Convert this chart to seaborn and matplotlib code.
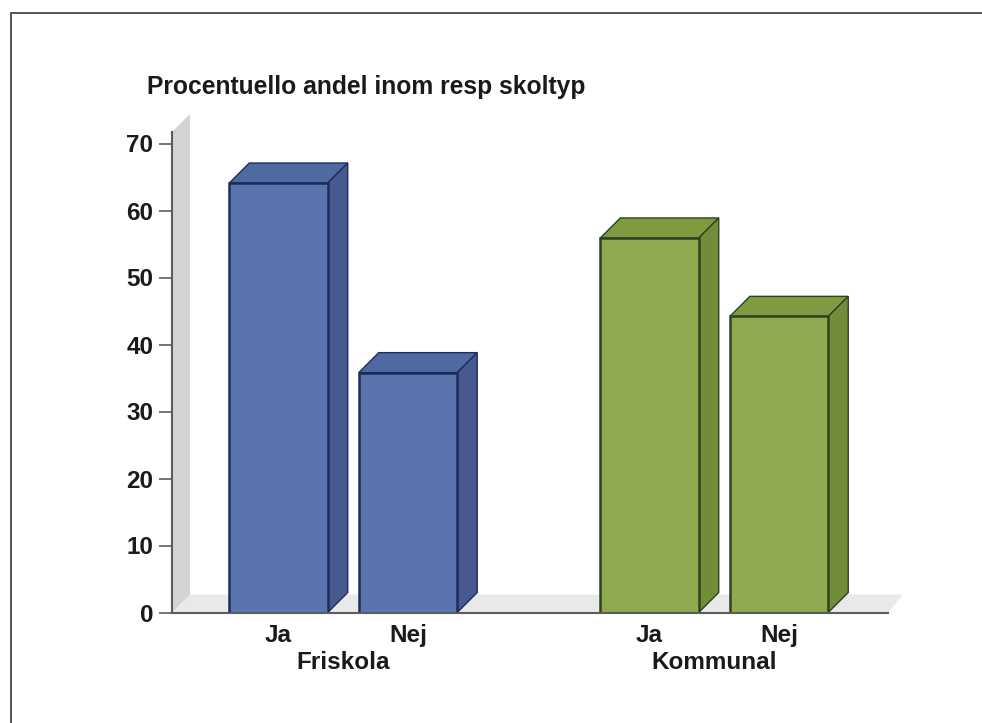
import matplotlib
matplotlib.use("Agg")
import matplotlib.pyplot as plt
from matplotlib.patches import Polygon, Rectangle
from matplotlib.lines import Line2D
import pandas as pd
import seaborn as sb

# values
groups = ["Friskola", "Kommunal"]
answers = ["Ja", "Nej"]
friskola = [64.1, 35.8]
kommunal = [55.9, 44.2]
title = "Procentuello andel inom resp skoltyp"
yticks = [0, 10, 20, 30, 40, 50, 60, 70]

W, H = 982, 723
PX_X = 129.5     # pixels for one bar step
PX_Y = 6.7       # pixels per percent
DEPTH = 20       # 3d depth in pixels
group_step = 2.865
TXT = "#1a1a1a"

sb.set_style("white")
plt.rcParams["font.family"] = ["Liberation Sans", "DejaVu Sans"]

df = pd.DataFrame({
    "pos": [0, 1, group_step, group_step + 1],
    "value": friskola + kommunal,
    "group": [groups[0]] * 2 + [groups[1]] * 2,
    "answer": answers * 2,
})

fig = plt.figure(figsize=(W / 100, H / 100), dpi=100)
left, right, bottom, top = 172, 888, 612.5, 132
ax = fig.add_axes([left / W, 1 - bottom / H, (right - left) / W, (bottom - top) / H])

sb.barplot(data=df, x="pos", y="value", hue="group", native_scale=True, width=0.76,
           palette=["#5a74ad", "#8ea94e"], saturation=1, legend=False,
           edgecolor="none", ax=ax, zorder=3)

ax.set_xlim((left - 278.5) / PX_X, (right - 278.5) / PX_X)
ax.set_ylim(0, (bottom - top) / PX_Y)
dx = DEPTH / PX_X
dy = DEPTH / PX_Y

bars = [p for p in ax.patches if isinstance(p, Rectangle) and p.get_width() > 0]
bars = sorted(bars, key=lambda b: b.get_x())

# back wall and floor
x0, x1 = ax.get_xlim()
y1 = ax.get_ylim()[1]
wall_dx = 18 / PX_X
wall_dy = 18 / PX_Y
ax.add_patch(Polygon([(x0, 0), (x0 + wall_dx, wall_dy), (x0 + wall_dx, y1 + wall_dy), (x0, y1)],
                     fc="#d3d3d3", ec="none", clip_on=False, zorder=1))
ax.add_patch(Polygon([(x0, 0), (x0 + wall_dx, wall_dy), (x1 + 15 / PX_X, wall_dy), (x1, 0)],
                     fc="#e9e9e9", ec="none", clip_on=False, zorder=0.5))

# fake 3d faces on each bar
styles = {
    0: ("#4f69a1", "#47598f", "#1d2c5c"),
    1: ("#7f9b41", "#728c3a", "#2f4222"),
}
for bar, g in zip(bars, [0, 0, 1, 1]):
    fc_top, fc_side, edge = styles[g]
    a, b = bar.get_x(), bar.get_x() + bar.get_width()
    h = bar.get_height()
    ax.add_patch(Polygon([(a, h), (a + dx, h + dy), (b + dx, h + dy), (b, h)],
                         fc=fc_top, ec=edge, lw=1.0, zorder=4, clip_on=False))
    ax.add_patch(Polygon([(b, 0), (b + dx, dy), (b + dx, h + dy), (b, h)],
                         fc=fc_side, ec=edge, lw=1.0, zorder=4, clip_on=False))
    bar.set_edgecolor(edge)
    bar.set_linewidth(1.8)
    bar.set_zorder(5)

for s in ["top", "right"]:
    ax.spines[s].set_visible(False)
for s in ["left", "bottom"]:
    ax.spines[s].set_color("#5c5c5c")
    ax.spines[s].set_linewidth(1.5)
    ax.spines[s].set_zorder(6)

ax.set_yticks(yticks)
ax.set_yticklabels([str(t) for t in yticks], fontsize=17.5, fontweight="bold", color=TXT)
ax.tick_params(axis="y", left=True, length=9.4, width=1.2, color="#5c5c5c", pad=4)
ax.set_xticks(df["pos"])
ax.set_xticklabels(df["answer"], fontsize=17.5, fontweight="bold", color=TXT)
ax.tick_params(axis="x", bottom=False, pad=4.5)
ax.set_xlabel("")
ax.set_ylabel("")

# group names under the answers
trans = ax.get_xaxis_transform()
for g in groups:
    xm = df.loc[df["group"] == g, "pos"].mean()
    ax.text(xm, -50 / (bottom - top), g, transform=trans, ha="center", va="center",
            fontsize=17.5, fontweight="bold", color=TXT)

fig.text(147 / W, 1 - 87 / H, title, ha="left", va="center", fontsize=17.7,
         fontweight="bold", color=TXT)

# picture frame
fig.add_artist(Line2D([11 / W, 11 / W], [0, 1 - 13 / H], color="#555555", lw=1.4))
fig.add_artist(Line2D([11 / W, 1], [1 - 13 / H, 1 - 13 / H], color="#555555", lw=1.4))

fig.savefig("out.png", dpi=100)
